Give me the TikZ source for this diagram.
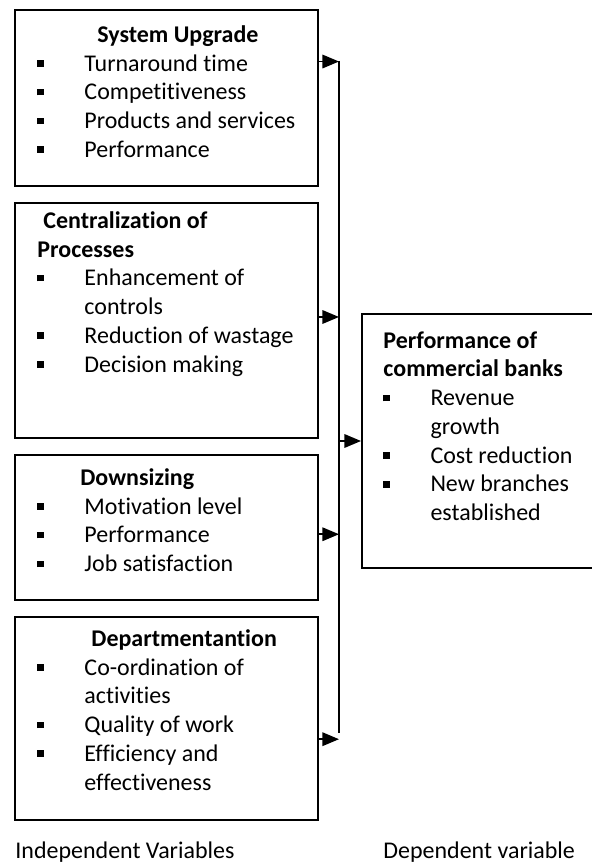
\documentclass[tikz,border=0pt]{standalone}
\usepackage{fontspec}
\setmainfont{Carlito}[Ligatures=NoCommon]
\usetikzlibrary{positioning, arrows.meta, calc}

% square bullet with hanging indent
\newcommand{\sqitem}[1]{\makebox[21.6pt][l]{\rule[2pt]{3pt}{3pt}}#1}
\newcommand{\sqcont}[1]{\hspace*{21.6pt}#1}

\begin{document}
\begin{tikzpicture}[
  x=0.459pt, y=-0.459pt,
  node distance=6.9pt,
  frame/.style={draw, line width=0.9pt, inner sep=0pt, minimum width=139.1pt},
  body/.style={anchor=north west, inner sep=0pt, align=left,
               font=\fontsize{11}{13.2}\selectfont},
  arr/.style={-{Triangle[length=7.6pt, width=6.2pt]}, line width=0.75pt},
  caption/.style={anchor=base west, inner sep=0pt, font=\fontsize{11}{13.2}\selectfont},
]
  \useasboundingbox (0,0) rectangle (592,865);

  % Independent variable boxes
  \node[frame, minimum height=80.8pt, anchor=north west] (upgrade) at (14,9) {};
  \node[frame, minimum height=107.9pt, below=of upgrade] (central) {};
  \node[frame, minimum height=66.6pt, below=of central] (downsize) {};
  \node[frame, minimum height=93.2pt, below=of downsize] (dept) {};

  % Dependent variable box, running off the right edge
  \node[frame, minimum width=125pt, minimum height=116.6pt, anchor=north west] (perf) at (361,313) {};

  % Box contents
  \node[body] (upgradetxt) at (37,25) {\hspace*{27.5pt}\textbf{System Upgrade}\\
    \sqitem{Turnaround time}\\
    \sqitem{Competitiveness}\\
    \sqitem{Products and services}\\
    \sqitem{Performance}};
  \node[body] (centraltxt) at (37,211) {\hspace*{2.75pt}\textbf{Centralization of}\\
    \textbf{Processes}\\
    \sqitem{Enhancement of}\\
    \sqcont{controls}\\
    \sqitem{Reduction of wastage}\\
    \sqitem{Decision making}};
  \node[body] (downsizetxt) at (37,468) {\hspace*{19.7pt}\textbf{Downsizing}\\
    \sqitem{Motivation level}\\
    \sqitem{Performance}\\
    \sqitem{Job satisfaction}};
  \node[body] (depttxt) at (37,629) {\hspace*{24.8pt}\textbf{Departmentantion}\\
    \sqitem{Co-ordination of}\\
    \sqcont{activities}\\
    \sqitem{Quality of work}\\
    \sqitem{Efficiency and}\\
    \sqcont{effectiveness}};
  \node[body] (perftxt) at (383,331) {\textbf{Performance of}\\
    \textbf{commercial banks}\\
    \sqitem{Revenue}\\
    \sqcont{growth}\\
    \sqitem{Cost reduction}\\
    \sqitem{New branches}\\
    \sqcont{established}};

  % Collecting line
  \coordinate (bustop) at (339,61);
  \coordinate (busbot) at (339,733);
  \draw[line width=0.75pt] (bustop) -- (busbot);

  % Arrows into the collecting line
  \coordinate (out1) at ($(upgrade.north east)!0.295!(upgrade.south east)$);
  \coordinate (out2) at ($(central.north east)!0.485!(central.south east)$);
  \coordinate (out3) at ($(downsize.north east)!0.545!(downsize.south east)$);
  \coordinate (out4) at ($(dept.north east)!0.60!(dept.south east)$);
  \draw[arr] (out1) -- (out1 -| bustop);
  \draw[arr] (out2) -- (out2 -| bustop);
  \draw[arr] (out3) -- (out3 -| bustop);
  \draw[arr] (out4) -- (out4 -| bustop);
  \draw[arr] (perf.west -| bustop) -- (perf.west);

  % Captions
  \node[caption] (indep) at (15,858) {Independent Variables};
  \node[caption] (dep) at (383,858) {Dependent variable};
\end{tikzpicture}
\end{document}
